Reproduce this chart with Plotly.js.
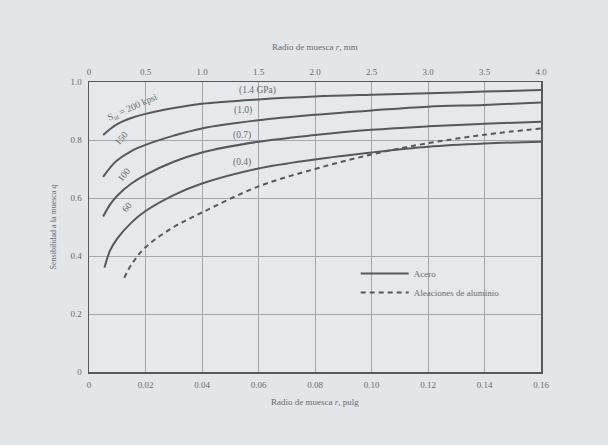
<!DOCTYPE html>
<html>
<head>
<meta charset="utf-8">
<script src="https://cdn.plot.ly/plotly-3.0.1.min.js"></script>
<style>html,body{margin:0;padding:0;background:#e3e6e9;}#chart{width:608px;height:445px;}</style>
</head>
<body>
<div id="chart"></div>
<script>
// radius in inches
const xSteel = [0.005, 0.0075, 0.01, 0.015, 0.02, 0.03, 0.04, 0.06, 0.08, 0.10, 0.12, 0.14, 0.16];
const q200 = [0.817, 0.838, 0.855, 0.876, 0.89, 0.91, 0.925, 0.94, 0.95, 0.956, 0.961, 0.967, 0.972];
const q150 = [0.673, 0.705, 0.73, 0.762, 0.783, 0.815, 0.84, 0.868, 0.887, 0.902, 0.915, 0.921, 0.929];
const q100 = [0.536, 0.578, 0.608, 0.65, 0.68, 0.725, 0.757, 0.794, 0.817, 0.835, 0.847, 0.856, 0.863];
const x60 = [0.0055, 0.0075, 0.01, 0.015, 0.02, 0.03, 0.04, 0.06, 0.08, 0.10, 0.12, 0.14, 0.16];
const q60 = [0.36, 0.42, 0.46, 0.515, 0.555, 0.61, 0.65, 0.702, 0.733, 0.757, 0.777, 0.788, 0.794];
const xAl = [0.0125, 0.015, 0.02, 0.03, 0.04, 0.06, 0.08, 0.10, 0.12, 0.14, 0.16];
const qAl = [0.325, 0.37, 0.43, 0.5, 0.55, 0.64, 0.70, 0.75, 0.789, 0.818, 0.84];

const xTicksIn = [0, 0.02, 0.04, 0.06, 0.08, 0.10, 0.12, 0.14, 0.16];
const xTickTextIn = ["0", "0.02", "0.04", "0.06", "0.08", "0.10", "0.12", "0.14", "0.16"];
const xTicksMm = [0, 0.5, 1.0, 1.5, 2.0, 2.5, 3.0, 3.5, 4.0];
const xTickTextMm = ["0", "0.5", "1.0", "1.5", "2.0", "2.5", "3.0", "3.5", "4.0"];
const yTicks = [0, 0.2, 0.4, 0.6, 0.8, 1.0];
const yTickText = ["0", "0.2", "0.4", "0.6", "0.8", "1.0"];

const lineCol = '#56585b';
const txtCol = '#686a6e';
const gridCol = '#a4a8ad';
const FONT = 'Liberation Serif, DejaVu Serif, serif';

function steel(x, y, show) {
  return {x: x, y: y, type: 'scatter', mode: 'lines', name: 'Acero',
    showlegend: show, hoverinfo: 'skip',
    line: {color: lineCol, width: 2, shape: 'spline', smoothing: 1}};
}
const traces = [
  steel(xSteel, q200, true),
  steel(xSteel, q150, false),
  steel(xSteel, q100, false),
  steel(x60, q60, false),
  {x: xAl, y: qAl, type: 'scatter', mode: 'lines', name: 'Aleaciones de aluminio',
   hoverinfo: 'skip', line: {color: lineCol, width: 2, dash: '5px,4px', shape: 'spline', smoothing: 1}},
  {x: [xTicksMm[0], xTicksMm[xTicksMm.length - 1]], y: [null, null], xaxis: 'x2', type: 'scatter',
   mode: 'lines', showlegend: false, hoverinfo: 'skip'}
];

const ann = (x, y, text, angle) => ({x: x, y: y, xref: 'x', yref: 'y', text: text, showarrow: false,
  textangle: angle, font: {family: FONT, size: 9.5, color: txtCol}});

const layout = {
  width: 608, height: 445,
  margin: {l: 89, r: 67, t: 82, b: 73},
  paper_bgcolor: '#e3e6e9', plot_bgcolor: '#e6e9ec',
  font: {family: FONT, size: 9, color: txtCol},
  xaxis: {range: [0, 0.16], tickvals: xTicksIn, ticktext: xTickTextIn,
    showgrid: true, gridcolor: gridCol, gridwidth: 1, zeroline: false,
    showline: true, linecolor: lineCol, linewidth: 1.5, mirror: false,
    ticks: '', ticklabelstandoff: 4,
    title: {text: 'Radio de muesca <i>r</i>, pulg', font: {family: FONT, size: 9, color: txtCol}, standoff: 9}},
  xaxis2: {range: [0, 4.0], overlaying: 'x', side: 'top', tickvals: xTicksMm, ticktext: xTickTextMm,
    showgrid: false, zeroline: false, showline: true, linecolor: lineCol, linewidth: 1.5,
    ticks: '', ticklabelstandoff: 2,
    title: {text: 'Radio de muesca <i>r</i>, mm', font: {family: FONT, size: 9, color: txtCol}, standoff: 15}},
  yaxis: {range: [0, 1.0], tickvals: yTicks, ticktext: yTickText,
    showgrid: true, gridcolor: gridCol, gridwidth: 1, zeroline: false,
    showline: true, linecolor: lineCol, linewidth: 1.5, mirror: true,
    ticks: '', ticklabelstandoff: 4,
    title: {text: 'Sensibilidad a la muesca <i>q</i>', font: {family: FONT, size: 8, color: txtCol}, standoff: 12}},
  legend: {x: 0.59, y: 0.39, xanchor: 'left', yanchor: 'top', bgcolor: 'rgba(0,0,0,0)',
    itemwidth: 48, font: {family: FONT, size: 9, color: txtCol}, tracegroupgap: 0},
  annotations: [
    ann(0.0155, 0.912, 'S<sub>ut</sub> = 200 kpsi', -24),
    ann(0.0116, 0.807, '150', -50),
    ann(0.0124, 0.679, '100', -50),
    ann(0.0135, 0.569, '60', -50),
    ann(0.0595, 0.972, '(1.4 GPa)', 0),
    ann(0.0545, 0.903, '(1.0)', 0),
    ann(0.0542, 0.817, '(0.7)', 0),
    ann(0.0542, 0.721, '(0.4)', 0)
  ]
};

Plotly.newPlot('chart', traces, layout, {displayModeBar: false, staticPlot: true});
</script>
</body>
</html>
